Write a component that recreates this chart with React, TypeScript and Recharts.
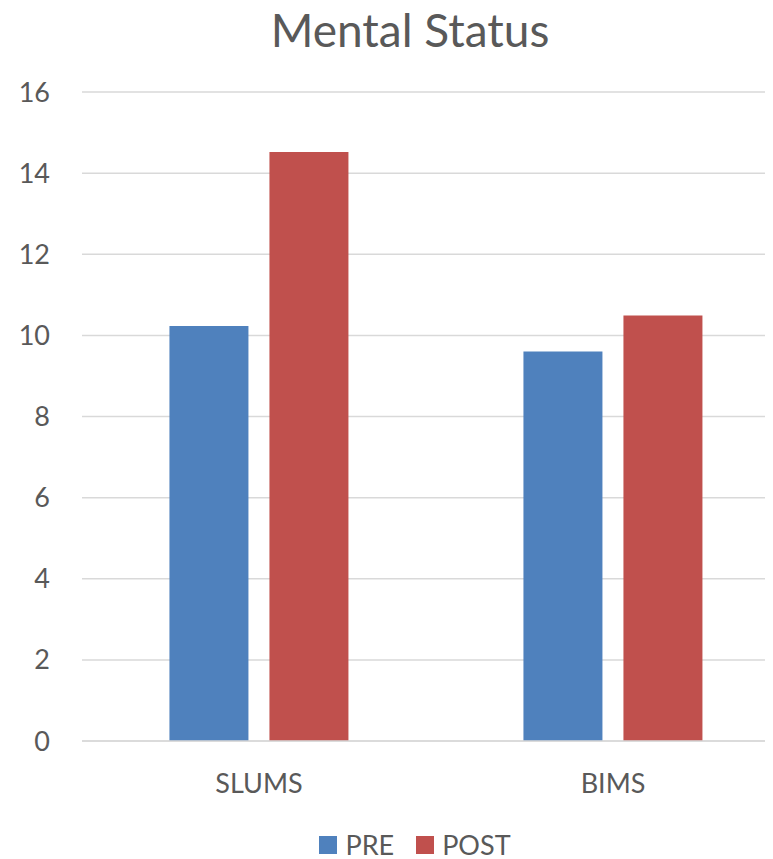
import { Bar, BarChart, CartesianGrid, XAxis, YAxis } from "recharts";

const categories = ["SLUMS", "BIMS"];
const preScores = [10.23, 9.6];
const postScores = [14.52, 10.49];
const yTicks = [0, 2, 4, 6, 8, 10, 12, 14, 16];

const seriesColors = { PRE: "#4f81bd", POST: "#c0504d" };

const data = categories.map((name, i) => ({
  name,
  PRE: preScores[i],
  POST: postScores[i],
}));

const FONT = "Lato, 'Open Sans', sans-serif";
const TEXT = "#595959";

function LegendItems() {
  return (
    <div
      style={{
        position: "absolute",
        left: 0,
        width: 830,
        top: 832,
        height: 26,
        display: "flex",
        justifyContent: "center",
        alignItems: "center",
        gap: 22,
        fontFamily: FONT,
        fontSize: 27,
        color: TEXT,
      }}
    >
      {Object.entries(seriesColors).map(([label, color]) => (
        <div key={label} style={{ display: "flex", alignItems: "center", gap: 8 }}>
          <span style={{ width: 18, height: 18, background: color, display: "block" }} />
          <span style={{ display: "block", lineHeight: "26px", height: 26 }}>{label}</span>
        </div>
      ))}
    </div>
  );
}

export default function App() {
  return (
    <div
      style={{
        position: "relative",
        width: 773,
        height: 859,
        overflow: "hidden",
        marginTop: -8,
        marginLeft: -8,
        background: "#fff",
      }}
    >
      <div
        style={{
          position: "absolute",
          left: 0,
          width: 820,
          top: 2,
          textAlign: "center",
          fontFamily: FONT,
          fontSize: 46,
          color: TEXT,
          zIndex: 1,
        }}
      >
        Mental Status
      </div>
      <BarChart
        width={790}
        height={859}
        data={data}
        margin={{ top: 92, right: 0, bottom: 88, left: 0 }}
        barCategoryGap="24.7%"
        barGap={21}
      >
        <CartesianGrid vertical={false} stroke="#d9d9d9" strokeWidth={1.5} />
        <XAxis
          dataKey="name"
          height={30}
          axisLine={{ stroke: "#d9d9d9", strokeWidth: 1.5 }}
          tickLine={false}
          tickSize={0}
          tickMargin={33}
          tick={{ fill: TEXT, fontSize: 27, fontFamily: FONT }}
        />
        <YAxis
          width={82}
          domain={[0, 16]}
          ticks={yTicks}
          axisLine={false}
          tickLine={false}
          tickSize={0}
          tickMargin={32}
          tick={{ fill: TEXT, fontSize: 27, fontFamily: FONT }}
        />
        <Bar dataKey="PRE" fill={seriesColors.PRE} isAnimationActive={false} />
        <Bar dataKey="POST" fill={seriesColors.POST} isAnimationActive={false} />
      </BarChart>
      <LegendItems />
    </div>
  );
}
